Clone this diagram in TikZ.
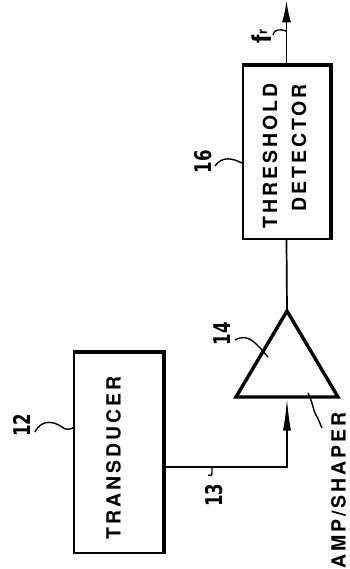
\documentclass[tikz,border=0pt]{standalone}
\usepackage{fontspec}
\newfontfamily\lblfont[LetterSpace=15]{TeX Gyre Heros}
\newfontfamily\plainheros{TeX Gyre Heros}
\newfontfamily\numfont{DejaVu Sans}
\usetikzlibrary{arrows.meta}
\begin{document}
\begin{tikzpicture}[x=1pt,y=-1pt,
  thinline/.style={line width=1.7pt},
  thickedge/.style={line width=3.4pt},
  lbl/.style={font=\lblfont\bfseries\fontsize{19.5}{22}\selectfont, rotate=90, inner sep=0pt},
  num/.style={font=\numfont\bfseries\fontsize{23}{26}\selectfont, rotate=90, inner sep=0pt},
  lead/.style={line width=1.4pt},
  blk/.style={draw, line width=1.7pt, inner sep=0pt}]
\useasboundingbox (0,0) rectangle (349,569);
\fill[white] (0,0) rectangle (349,569);

% threshold detector
\node[blk, minimum width=87pt, minimum height=173pt] (thr) at (286.5,152.5) {};
\draw[thickedge] (thr.north west) -- (thr.north east) -- (thr.south east);
\node[lbl] (thrA) at (270,156) {THRESHOLD};
\node[lbl] (thrB) at (299,148) {DETECTOR};

% transducer
\node[blk, minimum width=89pt, minimum height=200pt] (tra) at (118.5,453) {};
\draw[thickedge] (tra.north west) -- (tra.north east) -- (tra.south east);
\node[lbl] (traA) at (113.5,458) {TRANSDUCER};

% amplifier triangle
\coordinate (apex) at (287,311);
\coordinate (bl) at (236,397);
\coordinate (br) at (338,397);
\coordinate (ampin) at (287,398.5);
\draw[line width=3.4pt, line join=miter] (apex) -- (br) -- (bl) -- cycle;
\node[lbl, anchor=west] (ampA) at (338.5,569) {AMP/SHAPER};

% connectors
\coordinate (out) at (286.5,0.5);
\draw[thinline, -{Latex[length=22pt,width=9pt]}] (thr.north) -- (out);
\draw[thinline] (thr.south) -- (apex);
\draw[thinline, -{Latex[length=32pt,width=8pt]}] (tra.east) ++(0,14) -| (ampin);

% output label
\node[rotate=90, inner sep=0pt, font=\plainheros\bfseries\fontsize{27}{29}\selectfont] (fr) at (262,36) {f\raisebox{5pt}{\fontsize{13}{14}\selectfont r}};

% reference numbers
\node[num] (n16) at (203,162) {\scalebox{0.72}[1]{16}};
\node[num] (n12) at (22,425) {\scalebox{0.72}[1]{12}};
\node[num] (n14) at (222,334) {\scalebox{0.72}[1]{14}};
\node[num] (n13) at (214,495) {\scalebox{0.72}[1]{13}};

% leaders
\draw[lead] (215,166) .. controls (222,156) and (232,158) .. (242,163);
\draw[lead] (273,35) .. controls (274,29) and (280,29) .. (286,31);
\draw[lead] (35,432) .. controls (42,418) and (55,422) .. (62,427) .. controls (66,431) and (71,429) .. (75,427);
\draw[lead] (235,340) .. controls (248,333) and (255,342) .. (268,357);
\draw[lead] (212,467) -- (212,473) .. controls (212,476) and (210,476) .. (208,475);
\draw[lead] (308,393) .. controls (313,403) and (313,410) .. (316,415) .. controls (319,420) and (320,424) .. (322,428);
\end{tikzpicture}
\end{document}
